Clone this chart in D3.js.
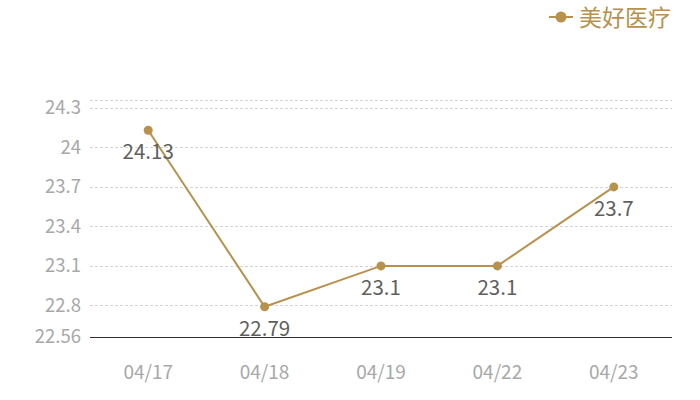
<!DOCTYPE html>
<html><head><meta charset="utf-8">
<script src="https://cdn.jsdelivr.net/npm/d3@7"></script>
<style>body{margin:0;background:#fff}svg{display:block}</style>
</head><body>
<svg id="c" width="700" height="400"></svg>
<script>
const categories = ["04/17","04/18","04/19","04/22","04/23"];
const values = [24.13, 22.79, 23.1, 23.1, 23.7];
const yTicks = [22.56, 22.8, 23.1, 23.4, 23.7, 24, 24.3];
const yDomain = [22.56, 24.36];
const seriesName = "美好医疗";

const color = "#b8914d";
const font = "'Noto Sans CJK SC', 'Open Sans', sans-serif";
const svg = d3.select("#c");
const x = d3.scaleBand().domain(categories).range([90, 672]);
const y = d3.scaleLinear().domain(yDomain).range([337, 100]);

// gridlines
const gridVals = yTicks.slice(1).concat([yDomain[1]]);
svg.append("g").selectAll("line").data(gridVals).join("line")
  .attr("x1", 90).attr("x2", 672)
  .attr("y1", d => Math.round(y(d)) + 0.5).attr("y2", d => Math.round(y(d)) + 0.5)
  .attr("stroke", "#d4d4d4").attr("stroke-dasharray", "3,2");

// y labels
svg.append("g").selectAll("text").data(yTicks).join("text")
  .attr("x", 81).attr("y", d => y(d)).attr("dy", "0.35em")
  .attr("text-anchor", "end").attr("fill", "#a8a8a8")
  .attr("font-family", font).attr("font-size", 18.5).text(d => d);

// x axis line
svg.append("line").attr("x1", 90).attr("x2", 672)
  .attr("y1", Math.round(y(yDomain[0])) + 0.5).attr("y2", Math.round(y(yDomain[0])) + 0.5)
  .attr("stroke", "#333").attr("stroke-width", 1);

// x labels
svg.append("g").selectAll("text").data(categories).join("text")
  .attr("x", d => x(d) + x.bandwidth() / 2).attr("y", 372).attr("dy", "0.35em")
  .attr("text-anchor", "middle").attr("fill", "#a8a8a8")
  .attr("font-family", font).attr("font-size", 19).text(d => d);

// line
const pts = categories.map((c, i) => [x(c) + x.bandwidth() / 2, y(values[i])]);
svg.append("path").attr("d", d3.line()(pts)).attr("fill", "none")
  .attr("stroke", color).attr("stroke-width", 2);
svg.append("g").selectAll("circle").data(pts).join("circle")
  .attr("cx", d => d[0]).attr("cy", d => d[1]).attr("r", 4.5).attr("fill", color);

// data labels
svg.append("g").selectAll("text").data(values).join("text")
  .attr("x", (d, i) => pts[i][0]).attr("y", (d, i) => pts[i][1] + 22).attr("dy", "0.35em")
  .attr("text-anchor", "middle").attr("fill", "#5f5f5f")
  .attr("font-family", font).attr("font-size", 20.5).text(d => d);

// legend
const lg = svg.append("g");
lg.append("line").attr("x1", 549).attr("x2", 573).attr("y1", 17).attr("y2", 17)
  .attr("stroke", color).attr("stroke-width", 2);
lg.append("circle").attr("cx", 561).attr("cy", 17).attr("r", 5.5).attr("fill", color);
lg.append("text").attr("x", 579).attr("y", 18).attr("dy", "0.35em")
  .attr("fill", color).attr("font-family", font).attr("font-size", 23).text(seriesName);
</script>
</body></html>
